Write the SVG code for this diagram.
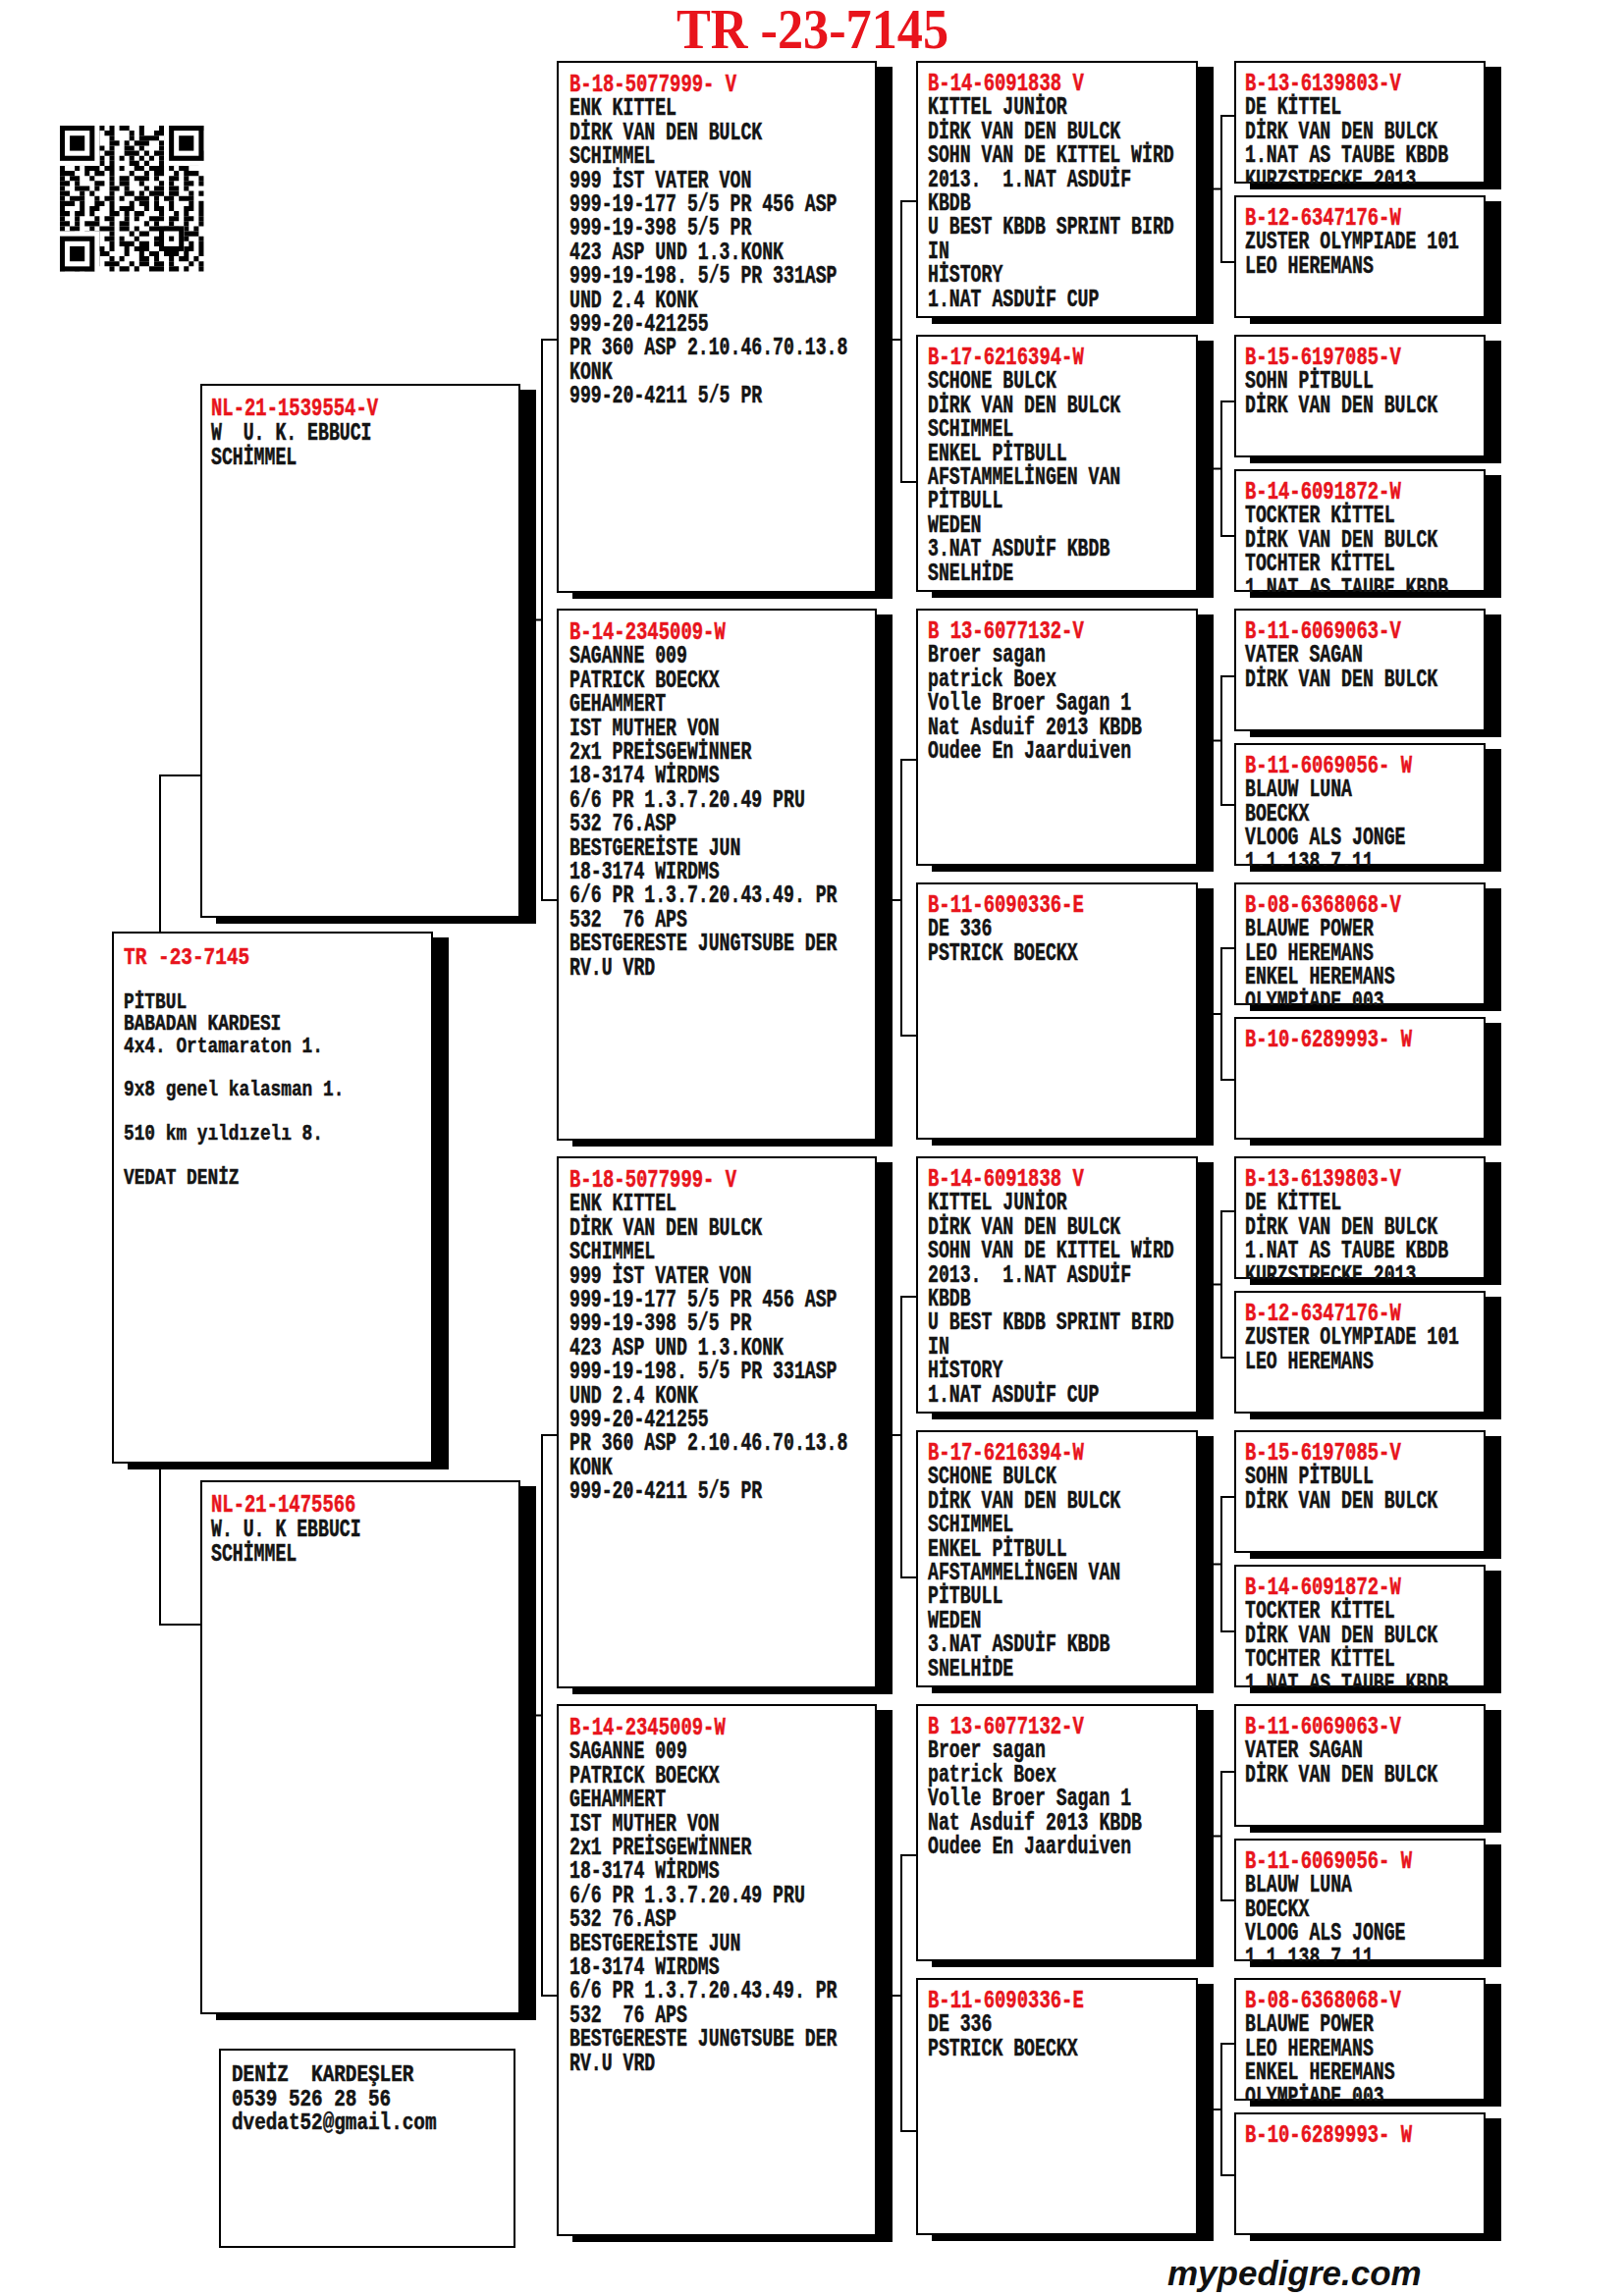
<svg xmlns="http://www.w3.org/2000/svg" width="1654" height="2339" viewBox="0 0 1654 2339" xml:space="preserve">
<style>
.sh{fill:#000}
.bx{fill:#fff;stroke:#000;stroke-width:2}
.tx text{font-family:"Liberation Mono","DejaVu Sans Mono",monospace;font-weight:bold;font-size:25px;fill:#141414;stroke:#141414;stroke-width:0.5;white-space:pre}
.tx .r{fill:#e8141c;stroke:#e8141c;font-size:26px}
.tx .s{font-size:22px}
.tx .rs{fill:#e8141c;stroke:#e8141c;font-size:24px}
.tx .k{font-size:23px}
</style>
<rect x="0" y="0" width="1654" height="2339" fill="#fff"/>
<g id="title"><text x="689" y="49" textLength="277" lengthAdjust="spacingAndGlyphs" font-family="Liberation Serif" font-weight="bold" font-size="56" fill="#e8141c">TR -23-7145</text></g>
<g id="qr" transform="translate(61,128) scale(5.05,5.12)">
<g fill="none" stroke="#000" stroke-width="1">
<path d="M0,0.5h29" stroke-dasharray="2 1 1 2 3 1 1 1 2 2 1 3 1 1 2 1 4 1"/>
<path d="M0,1.5h29" stroke-dasharray="1 2 3 1 1 1 2 3 1 1 1 2 2 1 3 1 1 2"/>
<path d="M0,2.5h29" stroke-dasharray="3 1 1 1 2 2 1 3 1 1 4 1 1 2 1 1 2 1"/>
<path d="M0,3.5h29" stroke-dasharray="1 1 2 3 1 2 2 1 1 1 3 2 1 1 2 1 3 1"/>
<path d="M0,4.5h29" stroke-dasharray="2 2 1 1 3 1 1 2 2 1 1 3 1 2 1 1 2 2"/>
<path d="M0,5.5h29" stroke-dasharray="1 3 2 1 1 1 2 2 3 1 1 1 2 1 1 3 1 1"/>
<path d="M0,6.5h29" stroke-dasharray="1 1"/>
<path d="M0,7.5h29" stroke-dasharray="2 1 3 2 1 1 1 3 2 1 1 2 1 1 3 1 2 1"/>
<path d="M0,8.5h29" stroke-dasharray="1 2 1 1 3 1 2 1 1 2 2 1 3 1 1 1 2 3"/>
<path d="M0,9.5h29" stroke-dasharray="3 2 1 1 2 1 1 3 1 2 1 1 2 2 1 1 3 1"/>
<path d="M0,10.5h29" stroke-dasharray="1 1 2 2 1 3 1 1 2 1 3 1 1 2 2 1 1 2"/>
<path d="M0,11.5h29" stroke-dasharray="2 1 1 3 2 1 1 1 2 2 1 3 1 1 1 2 2 1"/>
<path d="M0,12.5h29" stroke-dasharray="1 2 3 1 1 2 2 1 1 3 1 1 2 1 2 1 1 3"/>
<path d="M0,13.5h29" stroke-dasharray="2 2 1 1 1 3 1 2 2 1 1 1 3 1 2 2 1 1"/>
<path d="M0,14.5h29" stroke-dasharray="1 1 3 2 1 1 2 1 1 2 3 1 1 1 2 1 3 2"/>
<path d="M0,15.5h29" stroke-dasharray="3 1 1 2 2 1 1 3 1 1 2 1 1 2 1 3 1 1"/>
<path d="M0,16.5h29" stroke-dasharray="1 3 1 1 2 2 1 1 3 2 1 1 2 1 1 2 2 1"/>
<path d="M0,17.5h29" stroke-dasharray="2 1 2 1 1 3 2 1 1 1 2 3 1 2 1 1 1 2"/>
<path d="M0,18.5h29" stroke-dasharray="1 2 1 3 1 1 2 2 1 1 1 2 3 1 2 1 2 1"/>
<path d="M0,19.5h29" stroke-dasharray="2 1 1 1 3 2 1 1 2 3 1 1 1 2 1 2 1 2"/>
<path d="M0,20.5h29" stroke-dasharray="1 1 2 2 1 1 3 1 2 1 1 2 2 1 3 1 1 1"/>
<path d="M0,21.5h29" stroke-dasharray="3 2 1 1 1 2 1 3 1 1 2 2 1 1 2 1 3 1"/>
<path d="M0,22.5h29" stroke-dasharray="1 1 1 3 2 1 2 1 1 2 1 3 1 2 1 1 2 2"/>
<path d="M0,23.5h29" stroke-dasharray="2 3 1 1 1 2 1 1 3 1 2 1 1 1 2 3 1 1"/>
<path d="M0,24.5h29" stroke-dasharray="1 2 2 1 3 1 1 2 1 1 3 2 1 1 1 2 2 1"/>
<path d="M0,25.5h29" stroke-dasharray="2 1 1 2 1 1 2 3 1 2 1 1 2 1 3 1 1 2"/>
<path d="M0,26.5h29" stroke-dasharray="1 1 3 1 2 2 1 1 1 3 2 1 1 2 1 1 2 1"/>
<path d="M0,27.5h29" stroke-dasharray="3 1 2 1 1 1 3 2 1 1 2 1 2 1 1 3 1 1"/>
<path d="M0,28.5h29" stroke-dasharray="1 2 1 1 2 3 1 1 2 1 1 2 3 1 2 1 1 2"/>
</g>
<g fill="#fff"><rect x="0" y="0" width="8" height="8"/><rect x="21" y="0" width="8" height="8"/><rect x="0" y="21" width="8" height="8"/><rect x="20" y="20" width="5" height="5"/></g>
<g fill="#000"><rect x="0" y="0" width="7" height="7"/><rect x="22" y="0" width="7" height="7"/><rect x="0" y="22" width="7" height="7"/><rect x="20" y="20" width="5" height="5"/></g>
<g fill="#fff"><rect x="1" y="1" width="5" height="5"/><rect x="23" y="1" width="5" height="5"/><rect x="1" y="23" width="5" height="5"/><rect x="21" y="21" width="3" height="3"/></g>
<g fill="#000"><rect x="2" y="2" width="3" height="3"/><rect x="24" y="2" width="3" height="3"/><rect x="2" y="24" width="3" height="3"/><rect x="22" y="22" width="1" height="1"/></g>
</g>
<g id="connectors" fill="none" stroke="#000" stroke-width="2">
<path d="M204,790H163V1655H204"/>
<path d="M530,631.5H552M567,346H552V917H567"/>
<path d="M530,1747.5H552M567,1462H552V2033H567"/>
<path d="M893,346H918M933,205H918V491H933"/>
<path d="M893,917H918M933,774H918V1055H933"/>
<path d="M893,1462H918M933,1321H918V1607H933"/>
<path d="M893,2033H918M933,1890H918V2171H933"/>
<path d="M1220,192.5H1244M1257,118H1244V267H1257"/>
<path d="M1220,477.5H1244M1257,409H1244V546H1257"/>
<path d="M1220,754.5H1244M1257,689H1244V820H1257"/>
<path d="M1220,1033H1244M1257,966H1244V1100H1257"/>
<path d="M1220,1308.5H1244M1257,1234H1244V1383H1257"/>
<path d="M1220,1593.5H1244M1257,1525H1244V1662H1257"/>
<path d="M1220,1870.5H1244M1257,1805H1244V1936H1257"/>
<path d="M1220,2149H1244M1257,2082H1244V2216H1257"/>
</g>
<g id="n-subject"><rect class="sh" x="130" y="955" width="327" height="542"/><svg x="114" y="949" width="327" height="542"><rect class="bx" x="1" y="1" width="325" height="540"/><g class="tx" transform="translate(12,33) scale(0.81,1)"><text class="rs">TR -23-7145</text><text class="s" y="44.8">PİTBUL</text><text class="s" y="67.2">BABADAN KARDESI</text><text class="s" y="89.6">4x4. Ortamaraton 1.</text><text class="s" y="134.4">9x8 genel kalasman 1.</text><text class="s" y="179.2">510 km yıldızelı 8.</text><text class="s" y="224">VEDAT DENİZ</text></g></svg></g>
<g id="n-sire"><rect class="sh" x="220" y="397" width="326" height="544"/><svg x="204" y="391" width="326" height="544"><rect class="bx" x="1" y="1" width="324" height="542"/><g class="tx" transform="translate(11,32) scale(0.727,1)"><text class="r">NL-21-1539554-V</text><text y="25">W  U. K. EBBUCI</text><text y="50">SCHİMMEL</text></g></svg></g>
<g id="n-dam"><rect class="sh" x="220" y="1514" width="326" height="544"/><svg x="204" y="1508" width="326" height="544"><rect class="bx" x="1" y="1" width="324" height="542"/><g class="tx" transform="translate(11,32) scale(0.727,1)"><text class="r">NL-21-1475566</text><text y="25">W. U. K EBBUCI</text><text y="50">SCHİMMEL</text></g></svg></g>
<g id="n-gp1"><rect class="sh" x="583" y="68" width="326" height="542"/><svg x="567" y="62" width="326" height="542"><rect class="bx" x="1" y="1" width="324" height="540"/><g class="tx" transform="translate(13,31) scale(0.727,1)"><text class="r">B-18-5077999- V</text><text y="24.4">ENK KITTEL</text><text y="48.8">DİRK VAN DEN BULCK</text><text y="73.2">SCHIMMEL</text><text y="97.6">999 İST VATER VON</text><text y="122">999-19-177 5/5 PR 456 ASP</text><text y="146.4">999-19-398 5/5 PR</text><text y="170.8">423 ASP UND 1.3.KONK</text><text y="195.2">999-19-198. 5/5 PR 331ASP</text><text y="219.6">UND 2.4 KONK</text><text y="244">999-20-421255</text><text y="268.4">PR 360 ASP 2.10.46.70.13.8</text><text y="292.8">KONK</text><text y="317.2">999-20-4211 5/5 PR</text></g></svg></g>
<g id="n-gp2"><rect class="sh" x="583" y="626" width="326" height="542"/><svg x="567" y="620" width="326" height="542"><rect class="bx" x="1" y="1" width="324" height="540"/><g class="tx" transform="translate(13,31) scale(0.727,1)"><text class="r">B-14-2345009-W</text><text y="24.4">SAGANNE 009</text><text y="48.8">PATRICK BOECKX</text><text y="73.2">GEHAMMERT</text><text y="97.6">IST MUTHER VON</text><text y="122">2x1 PREİSGEWİNNER</text><text y="146.4">18-3174 WİRDMS</text><text y="170.8">6/6 PR 1.3.7.20.49 PRU</text><text y="195.2">532 76.ASP</text><text y="219.6">BESTGEREİSTE JUN</text><text y="244">18-3174 WIRDMS</text><text y="268.4">6/6 PR 1.3.7.20.43.49. PR</text><text y="292.8">532  76 APS</text><text y="317.2">BESTGERESTE JUNGTSUBE DER</text><text y="341.6">RV.U VRD</text></g></svg></g>
<g id="n-gp3"><rect class="sh" x="583" y="1184" width="326" height="542"/><svg x="567" y="1178" width="326" height="542"><rect class="bx" x="1" y="1" width="324" height="540"/><g class="tx" transform="translate(13,31) scale(0.727,1)"><text class="r">B-18-5077999- V</text><text y="24.4">ENK KITTEL</text><text y="48.8">DİRK VAN DEN BULCK</text><text y="73.2">SCHIMMEL</text><text y="97.6">999 İST VATER VON</text><text y="122">999-19-177 5/5 PR 456 ASP</text><text y="146.4">999-19-398 5/5 PR</text><text y="170.8">423 ASP UND 1.3.KONK</text><text y="195.2">999-19-198. 5/5 PR 331ASP</text><text y="219.6">UND 2.4 KONK</text><text y="244">999-20-421255</text><text y="268.4">PR 360 ASP 2.10.46.70.13.8</text><text y="292.8">KONK</text><text y="317.2">999-20-4211 5/5 PR</text></g></svg></g>
<g id="n-gp4"><rect class="sh" x="583" y="1742" width="326" height="542"/><svg x="567" y="1736" width="326" height="542"><rect class="bx" x="1" y="1" width="324" height="540"/><g class="tx" transform="translate(13,31) scale(0.727,1)"><text class="r">B-14-2345009-W</text><text y="24.4">SAGANNE 009</text><text y="48.8">PATRICK BOECKX</text><text y="73.2">GEHAMMERT</text><text y="97.6">IST MUTHER VON</text><text y="122">2x1 PREİSGEWİNNER</text><text y="146.4">18-3174 WİRDMS</text><text y="170.8">6/6 PR 1.3.7.20.49 PRU</text><text y="195.2">532 76.ASP</text><text y="219.6">BESTGEREİSTE JUN</text><text y="244">18-3174 WIRDMS</text><text y="268.4">6/6 PR 1.3.7.20.43.49. PR</text><text y="292.8">532  76 APS</text><text y="317.2">BESTGERESTE JUNGTSUBE DER</text><text y="341.6">RV.U VRD</text></g></svg></g>
<g id="n-c3-1"><rect class="sh" x="949" y="68" width="287" height="262"/><svg x="933" y="62" width="287" height="262"><rect class="bx" x="1" y="1" width="285" height="260"/><g class="tx" transform="translate(12,30) scale(0.727,1)"><text class="r">B-14-6091838 V</text><text y="24.4">KITTEL JUNİOR</text><text y="48.8">DİRK VAN DEN BULCK</text><text y="73.2">SOHN VAN DE KITTEL WİRD</text><text y="97.6">2013.  1.NAT ASDUİF</text><text y="122">KBDB</text><text y="146.4">U BEST KBDB SPRINT BIRD</text><text y="170.8">IN</text><text y="195.2">HİSTORY</text><text y="219.6">1.NAT ASDUİF CUP</text></g></svg></g>
<g id="n-c3-2"><rect class="sh" x="949" y="347" width="287" height="262"/><svg x="933" y="341" width="287" height="262"><rect class="bx" x="1" y="1" width="285" height="260"/><g class="tx" transform="translate(12,30) scale(0.727,1)"><text class="r">B-17-6216394-W</text><text y="24.4">SCHONE BULCK</text><text y="48.8">DİRK VAN DEN BULCK</text><text y="73.2">SCHIMMEL</text><text y="97.6">ENKEL PİTBULL</text><text y="122">AFSTAMMELİNGEN VAN</text><text y="146.4">PİTBULL</text><text y="170.8">WEDEN</text><text y="195.2">3.NAT ASDUİF KBDB</text><text y="219.6">SNELHİDE</text></g></svg></g>
<g id="n-c3-3"><rect class="sh" x="949" y="626" width="287" height="262"/><svg x="933" y="620" width="287" height="262"><rect class="bx" x="1" y="1" width="285" height="260"/><g class="tx" transform="translate(12,30) scale(0.727,1)"><text class="r">B 13-6077132-V</text><text y="24.4">Broer sagan</text><text y="48.8">patrick Boex</text><text y="73.2">Volle Broer Sagan 1</text><text y="97.6">Nat Asduif 2013 KBDB</text><text y="122">Oudee En Jaarduiven</text></g></svg></g>
<g id="n-c3-4"><rect class="sh" x="949" y="905" width="287" height="262"/><svg x="933" y="899" width="287" height="262"><rect class="bx" x="1" y="1" width="285" height="260"/><g class="tx" transform="translate(12,30) scale(0.727,1)"><text class="r">B-11-6090336-E</text><text y="24.4">DE 336</text><text y="48.8">PSTRICK BOECKX</text></g></svg></g>
<g id="n-c3-5"><rect class="sh" x="949" y="1184" width="287" height="262"/><svg x="933" y="1178" width="287" height="262"><rect class="bx" x="1" y="1" width="285" height="260"/><g class="tx" transform="translate(12,30) scale(0.727,1)"><text class="r">B-14-6091838 V</text><text y="24.4">KITTEL JUNİOR</text><text y="48.8">DİRK VAN DEN BULCK</text><text y="73.2">SOHN VAN DE KITTEL WİRD</text><text y="97.6">2013.  1.NAT ASDUİF</text><text y="122">KBDB</text><text y="146.4">U BEST KBDB SPRINT BIRD</text><text y="170.8">IN</text><text y="195.2">HİSTORY</text><text y="219.6">1.NAT ASDUİF CUP</text></g></svg></g>
<g id="n-c3-6"><rect class="sh" x="949" y="1463" width="287" height="262"/><svg x="933" y="1457" width="287" height="262"><rect class="bx" x="1" y="1" width="285" height="260"/><g class="tx" transform="translate(12,30) scale(0.727,1)"><text class="r">B-17-6216394-W</text><text y="24.4">SCHONE BULCK</text><text y="48.8">DİRK VAN DEN BULCK</text><text y="73.2">SCHIMMEL</text><text y="97.6">ENKEL PİTBULL</text><text y="122">AFSTAMMELİNGEN VAN</text><text y="146.4">PİTBULL</text><text y="170.8">WEDEN</text><text y="195.2">3.NAT ASDUİF KBDB</text><text y="219.6">SNELHİDE</text></g></svg></g>
<g id="n-c3-7"><rect class="sh" x="949" y="1742" width="287" height="262"/><svg x="933" y="1736" width="287" height="262"><rect class="bx" x="1" y="1" width="285" height="260"/><g class="tx" transform="translate(12,30) scale(0.727,1)"><text class="r">B 13-6077132-V</text><text y="24.4">Broer sagan</text><text y="48.8">patrick Boex</text><text y="73.2">Volle Broer Sagan 1</text><text y="97.6">Nat Asduif 2013 KBDB</text><text y="122">Oudee En Jaarduiven</text></g></svg></g>
<g id="n-c3-8"><rect class="sh" x="949" y="2021" width="287" height="262"/><svg x="933" y="2015" width="287" height="262"><rect class="bx" x="1" y="1" width="285" height="260"/><g class="tx" transform="translate(12,30) scale(0.727,1)"><text class="r">B-11-6090336-E</text><text y="24.4">DE 336</text><text y="48.8">PSTRICK BOECKX</text></g></svg></g>
<g id="n-c4-1"><rect class="sh" x="1273" y="68" width="256" height="125"/><svg x="1257" y="62" width="256" height="125"><rect class="bx" x="1" y="1" width="254" height="123"/><g class="tx" transform="translate(11,30) scale(0.727,1)"><text class="r">B-13-6139803-V</text><text y="24.4">DE KİTTEL</text><text y="48.8">DİRK VAN DEN BULCK</text><text y="73.2">1.NAT AS TAUBE KBDB</text><text y="97.6">KURZSTRECKE 2013</text></g></svg></g>
<g id="n-c4-2"><rect class="sh" x="1273" y="205" width="256" height="125"/><svg x="1257" y="199" width="256" height="125"><rect class="bx" x="1" y="1" width="254" height="123"/><g class="tx" transform="translate(11,30) scale(0.727,1)"><text class="r">B-12-6347176-W</text><text y="24.4">ZUSTER OLYMPIADE 101</text><text y="48.8">LEO HEREMANS</text></g></svg></g>
<g id="n-c4-3"><rect class="sh" x="1273" y="347" width="256" height="125"/><svg x="1257" y="341" width="256" height="125"><rect class="bx" x="1" y="1" width="254" height="123"/><g class="tx" transform="translate(11,30) scale(0.727,1)"><text class="r">B-15-6197085-V</text><text y="24.4">SOHN PİTBULL</text><text y="48.8">DİRK VAN DEN BULCK</text></g></svg></g>
<g id="n-c4-4"><rect class="sh" x="1273" y="484" width="256" height="125"/><svg x="1257" y="478" width="256" height="125"><rect class="bx" x="1" y="1" width="254" height="123"/><g class="tx" transform="translate(11,30) scale(0.727,1)"><text class="r">B-14-6091872-W</text><text y="24.4">TOCKTER KİTTEL</text><text y="48.8">DİRK VAN DEN BULCK</text><text y="73.2">TOCHTER KİTTEL</text><text y="97.6">1.NAT AS TAUBE KBDB</text></g></svg></g>
<g id="n-c4-5"><rect class="sh" x="1273" y="626" width="256" height="125"/><svg x="1257" y="620" width="256" height="125"><rect class="bx" x="1" y="1" width="254" height="123"/><g class="tx" transform="translate(11,30) scale(0.727,1)"><text class="r">B-11-6069063-V</text><text y="24.4">VATER SAGAN</text><text y="48.8">DİRK VAN DEN BULCK</text></g></svg></g>
<g id="n-c4-6"><rect class="sh" x="1273" y="763" width="256" height="125"/><svg x="1257" y="757" width="256" height="125"><rect class="bx" x="1" y="1" width="254" height="123"/><g class="tx" transform="translate(11,30) scale(0.727,1)"><text class="r">B-11-6069056- W</text><text y="24.4">BLAUW LUNA</text><text y="48.8">BOECKX</text><text y="73.2">VLOOG ALS JONGE</text><text y="97.6">1.1.138.7.11</text></g></svg></g>
<g id="n-c4-7"><rect class="sh" x="1273" y="905" width="256" height="125"/><svg x="1257" y="899" width="256" height="125"><rect class="bx" x="1" y="1" width="254" height="123"/><g class="tx" transform="translate(11,30) scale(0.727,1)"><text class="r">B-08-6368068-V</text><text y="24.4">BLAUWE POWER</text><text y="48.8">LEO HEREMANS</text><text y="73.2">ENKEL HEREMANS</text><text y="97.6">OLYMPİADE 003</text></g></svg></g>
<g id="n-c4-8"><rect class="sh" x="1273" y="1042" width="256" height="125"/><svg x="1257" y="1036" width="256" height="125"><rect class="bx" x="1" y="1" width="254" height="123"/><g class="tx" transform="translate(11,30) scale(0.727,1)"><text class="r">B-10-6289993- W</text></g></svg></g>
<g id="n-c4-9"><rect class="sh" x="1273" y="1184" width="256" height="125"/><svg x="1257" y="1178" width="256" height="125"><rect class="bx" x="1" y="1" width="254" height="123"/><g class="tx" transform="translate(11,30) scale(0.727,1)"><text class="r">B-13-6139803-V</text><text y="24.4">DE KİTTEL</text><text y="48.8">DİRK VAN DEN BULCK</text><text y="73.2">1.NAT AS TAUBE KBDB</text><text y="97.6">KURZSTRECKE 2013</text></g></svg></g>
<g id="n-c4-10"><rect class="sh" x="1273" y="1321" width="256" height="125"/><svg x="1257" y="1315" width="256" height="125"><rect class="bx" x="1" y="1" width="254" height="123"/><g class="tx" transform="translate(11,30) scale(0.727,1)"><text class="r">B-12-6347176-W</text><text y="24.4">ZUSTER OLYMPIADE 101</text><text y="48.8">LEO HEREMANS</text></g></svg></g>
<g id="n-c4-11"><rect class="sh" x="1273" y="1463" width="256" height="125"/><svg x="1257" y="1457" width="256" height="125"><rect class="bx" x="1" y="1" width="254" height="123"/><g class="tx" transform="translate(11,30) scale(0.727,1)"><text class="r">B-15-6197085-V</text><text y="24.4">SOHN PİTBULL</text><text y="48.8">DİRK VAN DEN BULCK</text></g></svg></g>
<g id="n-c4-12"><rect class="sh" x="1273" y="1600" width="256" height="125"/><svg x="1257" y="1594" width="256" height="125"><rect class="bx" x="1" y="1" width="254" height="123"/><g class="tx" transform="translate(11,30) scale(0.727,1)"><text class="r">B-14-6091872-W</text><text y="24.4">TOCKTER KİTTEL</text><text y="48.8">DİRK VAN DEN BULCK</text><text y="73.2">TOCHTER KİTTEL</text><text y="97.6">1.NAT AS TAUBE KBDB</text></g></svg></g>
<g id="n-c4-13"><rect class="sh" x="1273" y="1742" width="256" height="125"/><svg x="1257" y="1736" width="256" height="125"><rect class="bx" x="1" y="1" width="254" height="123"/><g class="tx" transform="translate(11,30) scale(0.727,1)"><text class="r">B-11-6069063-V</text><text y="24.4">VATER SAGAN</text><text y="48.8">DİRK VAN DEN BULCK</text></g></svg></g>
<g id="n-c4-14"><rect class="sh" x="1273" y="1879" width="256" height="125"/><svg x="1257" y="1873" width="256" height="125"><rect class="bx" x="1" y="1" width="254" height="123"/><g class="tx" transform="translate(11,30) scale(0.727,1)"><text class="r">B-11-6069056- W</text><text y="24.4">BLAUW LUNA</text><text y="48.8">BOECKX</text><text y="73.2">VLOOG ALS JONGE</text><text y="97.6">1.1.138.7.11</text></g></svg></g>
<g id="n-c4-15"><rect class="sh" x="1273" y="2021" width="256" height="125"/><svg x="1257" y="2015" width="256" height="125"><rect class="bx" x="1" y="1" width="254" height="123"/><g class="tx" transform="translate(11,30) scale(0.727,1)"><text class="r">B-08-6368068-V</text><text y="24.4">BLAUWE POWER</text><text y="48.8">LEO HEREMANS</text><text y="73.2">ENKEL HEREMANS</text><text y="97.6">OLYMPİADE 003</text></g></svg></g>
<g id="n-c4-16"><rect class="sh" x="1273" y="2158" width="256" height="125"/><svg x="1257" y="2152" width="256" height="125"><rect class="bx" x="1" y="1" width="254" height="123"/><g class="tx" transform="translate(11,30) scale(0.727,1)"><text class="r">B-10-6289993- W</text></g></svg></g>
<g id="n-contact"><rect class="bx" x="224" y="2088" width="300" height="201"/><g class="tx" transform="translate(236,2120) scale(0.84,1)"><text class="k">DENİZ  KARDEŞLER</text><text class="k" y="24.6">0539 526 28 56</text><text class="k" y="49.2">dvedat52@gmail.com</text></g></g>
<g id="footer"><text x="1189" y="2328" font-family="Liberation Sans" font-weight="bold" font-style="italic" font-size="35" fill="#111">mypedigre.com</text></g>
</svg>
